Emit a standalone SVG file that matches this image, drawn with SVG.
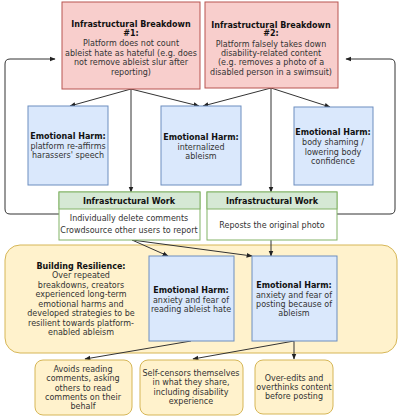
<svg xmlns="http://www.w3.org/2000/svg" width="400" height="416" viewBox="0 0 400 416">
<style>
text{font-family:"DejaVu Sans",Verdana,sans-serif;font-size:8px;fill:#333;text-anchor:middle}
.b{font-weight:bold;fill:#111}
.red{fill:#f8cecc;stroke:#b85450;stroke-width:1}
.blue{fill:#dae8fc;stroke:#6c8ebf;stroke-width:1}
.green{fill:#d5e8d4;stroke:#82b366;stroke-width:1}
.white{fill:#fff;stroke:#82b366;stroke-width:1}
.yel{fill:#fff2cc;stroke:#d6b656;stroke-width:1}
.c{fill:none;stroke:#333;stroke-width:1;marker-end:url(#ah)}
</style>
<defs>
<marker id="ah" viewBox="0 0 10 10" refX="9" refY="5" markerWidth="6" markerHeight="6" orient="auto" markerUnits="userSpaceOnUse">
<path d="M0,1 L10,5 L0,9 Z" fill="#222"/>
</marker>
</defs>
<g id="resilience">
<rect class="yel" x="5" y="245" width="392" height="108" rx="15"/>
<text x="81" y="269" class="b">Building Resilience:</text>
<text x="81" y="278">Over repeated</text>
<text x="81" y="288">breakdowns, creators</text>
<text x="81" y="297">experienced long-term</text>
<text x="81" y="307">emotional harms and</text>
<text x="81" y="316">developed strategies to be</text>
<text x="81" y="326">resilient towards platform-</text>
<text x="81" y="335">enabled ableism</text>
</g>
<g id="connectors">
<path class="c" d="M131,89 L70,106"/>
<path class="c" d="M131,89 V192"/>
<path class="c" d="M131,89 L199,106"/>
<path class="c" d="M271,88 L203,106"/>
<path class="c" d="M271,88 V192"/>
<path class="c" d="M271,88 L330,107"/>
<path class="c" d="M59,214 H10 Q5,214 5,209 V64 Q5,59 10,59 H55"/>
<path class="c" d="M337,214 H390 Q395,214 395,209 V64 Q395,59 390,59 H346"/>
<path class="c" d="M132,240 L168,256"/>
<path class="c" d="M132,240 L252,256"/>
<path class="c" d="M271,240 V256"/>
<path class="c" d="M191,341 L85,359"/>
<path class="c" d="M294,341 L193,359"/>
<path class="c" d="M294,341 V359"/>
</g>
<g id="breakdown1">
<rect class="red" x="62" y="2" width="138" height="87"/>
<text x="131" y="27" class="b">Infrastructural Breakdown</text>
<text x="131" y="36" class="b">#1:</text>
<text x="131" y="46">Platform does not count</text>
<text x="131" y="56">ableist hate as hateful (e.g. does</text>
<text x="131" y="65">not remove ableist slur after</text>
<text x="131" y="75">reporting)</text>
</g>
<g id="breakdown2">
<rect class="red" x="205" y="2" width="133" height="86"/>
<text x="271" y="28" class="b">Infrastructural Breakdown</text>
<text x="271" y="36" class="b">#2:</text>
<text x="271" y="47">Platform falsely takes down</text>
<text x="271" y="56">disability-related content</text>
<text x="271" y="65">(e.g. removes a photo of a</text>
<text x="271" y="75">disabled person in a swimsuit)</text>
</g>
<g id="harmA">
<rect class="blue" x="28" y="106" width="80" height="79"/>
<text x="68" y="139" class="b">Emotional Harm:</text>
<text x="68" y="149">platform re-affirms</text>
<text x="68" y="158">harassers' speech</text>
</g>
<g id="harmB">
<rect class="blue" x="161" y="106" width="80" height="79"/>
<text x="201" y="140" class="b">Emotional Harm:</text>
<text x="201" y="150">internalized</text>
<text x="201" y="159">ableism</text>
</g>
<g id="harmC">
<rect class="blue" x="294" y="107" width="79" height="78"/>
<text x="333" y="135" class="b">Emotional Harm:</text>
<text x="333" y="145">body shaming /</text>
<text x="333" y="155">lowering body</text>
<text x="333" y="164">confidence</text>
</g>
<g id="work1">
<rect class="white" x="59" y="192" width="141" height="48"/>
<rect class="green" x="59" y="192" width="141" height="17"/>
<text x="129" y="204" class="b">Infrastructural Work</text>
<text x="129" y="221">Individually delete comments</text>
<text x="129" y="233">Crowdsource other users to report</text>
</g>
<g id="work2">
<rect class="white" x="207" y="192" width="130" height="48"/>
<rect class="green" x="207" y="192" width="130" height="17"/>
<text x="272" y="204" class="b">Infrastructural Work</text>
<text x="272" y="228">Reposts the original photo</text>
</g>
<g id="harmD">
<rect class="blue" x="149" y="256" width="85" height="85"/>
<text x="191" y="293" class="b">Emotional Harm:</text>
<text x="191" y="303">anxiety and fear of</text>
<text x="191" y="312">reading ableist hate</text>
</g>
<g id="harmE">
<rect class="blue" x="252" y="256" width="85" height="85"/>
<text x="294" y="288" class="b">Emotional Harm:</text>
<text x="294" y="298">anxiety and fear of</text>
<text x="294" y="307">posting because of</text>
<text x="294" y="316">ableism</text>
</g>
<g id="avoid">
<rect class="yel" x="35" y="360" width="97" height="55" rx="8"/>
<text x="83" y="372">Avoids reading</text>
<text x="83" y="381">comments, asking</text>
<text x="83" y="391">others to read</text>
<text x="83" y="400">comments on their</text>
<text x="83" y="409">behalf</text>
</g>
<g id="selfcensor">
<rect class="yel" x="140" y="360" width="103" height="55" rx="8"/>
<text x="191" y="376">Self-censors themselves</text>
<text x="191" y="385">in what they share,</text>
<text x="191" y="395">including disability</text>
<text x="191" y="404">experience</text>
</g>
<g id="overedit">
<rect class="yel" x="255" y="360" width="78" height="54" rx="8"/>
<text x="294" y="381">Over-edits and</text>
<text x="294" y="390">overthinks content</text>
<text x="294" y="399">before posting</text>
</g>
</svg>
